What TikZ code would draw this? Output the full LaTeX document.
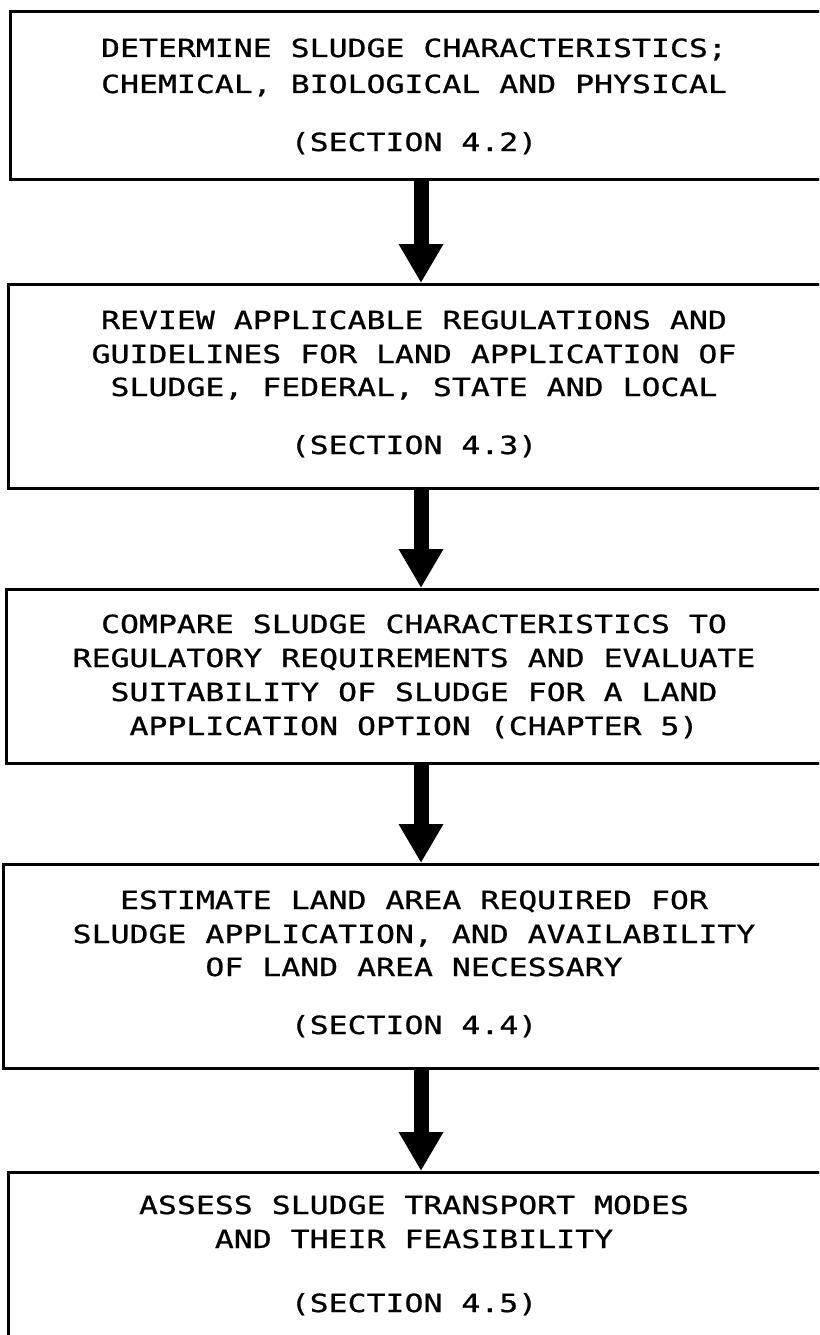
\documentclass[tikz,border=0pt]{standalone}
\usepackage{fontspec}
\usetikzlibrary{arrows.meta}
% plotter-style lettering: a monospaced sans, widened and slightly heavier
\newfontfamily\plotfont[FakeStretch=1.26,FakeBold=0.8]{DejaVu Sans Mono}

\tikzset{
  stepbox/.style={draw=black, line width=3.4pt, rectangle, inner sep=0pt,
    anchor=north west, minimum width=860pt},
  txt/.style={font=\plotfont\fontsize{25}{30}\selectfont, inner sep=0pt,
    text height=18pt, text depth=0pt, anchor=center},
  flowarrow/.style={line width=15pt, draw=black,
    -{Triangle[width=42pt,length=39pt]}}
}

\begin{document}
\begin{tikzpicture}[x=1pt,y=-1pt]
\useasboundingbox (0,0) rectangle (819,1335);
\fill[white] (0,0) rectangle (819,1335);
\clip (0,0) rectangle (819,1335);

% process boxes (they run off the right-hand edge of the sheet)
\node[stepbox, minimum height=168pt] (b1) at (9,10) {};
\node[stepbox, minimum height=204pt] (b2) at (7,283) {};
\node[stepbox, minimum height=174pt] (b3) at (5,588) {};
\node[stepbox, minimum height=204pt] (b4) at (2,863) {};
\node[stepbox, minimum height=220pt] (b5) at (7,1171) {};

% box texts
\node[txt] (t1a) at (414,48)  {DETERMINE SLUDGE CHARACTERISTICS;};
\node[txt] (t1b) at (414,84)  {CHEMICAL, BIOLOGICAL AND PHYSICAL};
\node[txt] (t1s) at (414,142) {(SECTION 4.2)};

\node[txt] (t2a) at (414,320) {REVIEW APPLICABLE REGULATIONS AND};
\node[txt] (t2b) at (414,354) {GUIDELINES FOR LAND APPLICATION OF};
\node[txt] (t2c) at (414,387) {SLUDGE, FEDERAL, STATE AND LOCAL};
\node[txt] (t2s) at (414,445) {(SECTION 4.3)};

\node[txt] (t3a) at (414,624) {COMPARE SLUDGE CHARACTERISTICS TO};
\node[txt] (t3b) at (414,658) {REGULATORY REQUIREMENTS AND EVALUATE};
\node[txt] (t3c) at (414,692) {SUITABILITY OF SLUDGE FOR A LAND};
\node[txt] (t3d) at (414,726) {APPLICATION OPTION (CHAPTER 5)};

\node[txt] (t4a) at (414,900)  {ESTIMATE LAND AREA REQUIRED FOR};
\node[txt] (t4b) at (414,934)  {SLUDGE APPLICATION, AND AVAILABILITY};
\node[txt] (t4c) at (414,967)  {OF LAND AREA NECESSARY};
\node[txt] (t4s) at (414,1025) {(SECTION 4.4)};

\node[txt] (t5a) at (414,1205) {ASSESS SLUDGE TRANSPORT MODES};
\node[txt] (t5b) at (414,1239) {AND THEIR FEASIBILITY};
\node[txt] (t5s) at (414,1303) {(SECTION 4.5)};

% heavy flow arrows between the boxes
\coordinate (ax) at (421,0);
\draw[flowarrow] (b1.south -| ax) -- (b2.north -| ax);
\draw[flowarrow] (b2.south -| ax) -- (b3.north -| ax);
\draw[flowarrow] (b3.south -| ax) -- (b4.north -| ax);
\draw[flowarrow] (b4.south -| ax) -- (b5.north -| ax);
\end{tikzpicture}
\end{document}
